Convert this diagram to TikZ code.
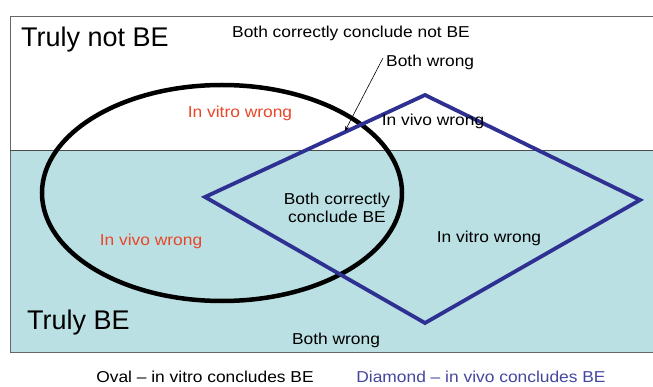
\documentclass[tikz,border=0pt]{standalone}
\usepackage{fontspec}
\setmainfont{Liberation Sans}
\newfontfamily\widesans[FakeStretch=1.1]{Liberation Sans}
\usetikzlibrary{arrows.meta}
\definecolor{teal}{HTML}{BBE0E3}
\definecolor{navy}{HTML}{2E3192}
\definecolor{redtxt}{HTML}{E8472A}
\definecolor{captblue}{HTML}{45479F}
\tikzset{
  lbl/.style={font=\widesans\fontsize{15.8}{18}\selectfont, inner sep=1pt},
  big/.style={font=\fontsize{27}{30}\selectfont, inner sep=1pt, anchor=west},
  redlbl/.style={lbl, text=redtxt},
}
\begin{document}
\begin{tikzpicture}[x=1pt,y=-1pt]
\useasboundingbox (0,0) rectangle (653,387);
\begin{scope}
\clip (0,0) rectangle (653,387);
\fill[white] (0,0) rectangle (653,387);
\fill[teal] (10,150) rectangle (670,352);
\draw[gray!80!black, line width=0.8pt] (10,16) rectangle (670,352);
\draw[gray!60!black, line width=0.8pt] (10,150) -- (670,150);
\end{scope}
% oval
\draw[black, line width=4.5pt] (222,193) ellipse [x radius=180, y radius=108];
% diamond
\draw[navy, line width=3.8pt, line join=miter] (425,95) -- (640,200) -- (425,323) -- (205,197) -- cycle;
% texts
\node[big] (tnb) at (20,40) {Truly not BE};
\node[big] (tb) at (26,323) {Truly BE};
\node[lbl] (bcn) at (351,33) {Both correctly conclude not BE};
\node[lbl, anchor=west] (bw1) at (385,62) {Both wrong};
\coordinate (tip) at (345,131);
\coordinate (ts) at (383,58);
\draw[line width=0.6pt, -{Stealth[length=5pt,width=4pt]}] (ts) -- (tip);
\node[redlbl] (ivw1) at (240,113) {In vitro wrong};
\node[lbl] (vw1) at (433,121) {In vivo wrong};
\node[lbl, align=center] (bcb) at (337,208) {Both correctly\\conclude BE};
\node[redlbl] (vw2) at (151,241) {In vivo wrong};
\node[lbl] (ivw2) at (489,238) {In vitro wrong};
\node[lbl] (bw2) at (336,340) {Both wrong};
\node[lbl] (cap1) at (205,377) {Oval – in vitro concludes BE};
\node[lbl, text=captblue] (cap2) at (481,377) {Diamond – in vivo concludes BE};
\end{tikzpicture}
\end{document}
